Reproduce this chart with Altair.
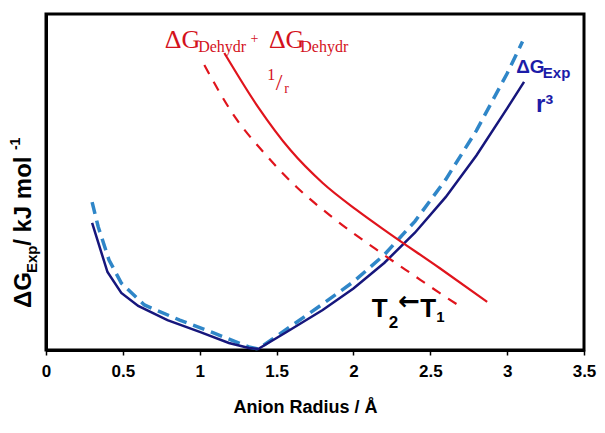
import altair as alt
import pandas as pd

# ---- data (anion radius in Å, free energy in arbitrary units) ----
exp_r = [0.30, 0.40, 0.49, 0.60, 0.79, 1.00, 1.19, 1.32, 1.38, 1.56, 1.80, 2.00, 2.20, 2.40, 2.60, 2.80, 3.00, 3.11]
exp_g = [37.8, 23.2, 17.0, 13.1, 8.9, 5.4, 2.1, 0.6, 0.3, 5.2, 11.9, 18.3, 25.9, 34.9, 45.5, 57.9, 71.9, 79.8]

exp2_r = [0.30, 0.34, 0.41, 0.49, 0.64, 0.87, 1.09, 1.32, 1.38, 1.60, 1.80, 2.00, 2.20, 2.40, 2.60, 2.80, 3.00, 3.10]
exp2_g = [44.0, 36.6, 26.8, 19.9, 13.4, 8.9, 5.1, 0.9, 0.3, 7.3, 13.7, 20.3, 28.3, 38.3, 50.7, 65.3, 82.3, 91.8]

dehydr_r = [1.16, 1.38, 1.59, 1.80, 2.02, 2.23, 2.56, 2.87]
dehydr_g = [88.4, 72.3, 59.5, 49.7, 41.7, 34.8, 24.4, 14.3]

dehydr2_r = [1.03, 1.23, 1.42, 1.63, 1.86, 2.18, 2.39, 2.56, 2.69]
dehydr2_g = [84.8, 69.3, 58.6, 48.5, 39.6, 28.9, 22.3, 17.0, 13.1]

x_ticks = [0, 0.5, 1, 1.5, 2, 2.5, 3, 3.5]

# annotation texts
red_txt = ["ΔG", "Dehydr", "+", "ΔG", "Dehydr", "1", "/", "r"]
red_x = [0.773, 0.990, 1.330, 1.450, 1.654, 1.440, 1.495, 1.550]
red_y = [89.9, 88.7, 91.4, 89.9, 88.7, 80.4, 77.4, 76.5]
red_sz = [26, 16, 14, 26, 16, 16, 24, 14]

blue_txt = ["ΔG", "Exp", "r³"]
blue_x = [3.059, 3.232, 3.187]
blue_y = [82.4, 81.0, 70.8]
blue_sz = [19, 15, 24]

blk_txt = ["T", "2", "T", "1"]
blk_x = [2.120, 2.229, 2.435, 2.539]
blk_y = [9.8, 6.5, 9.8, 8.3]
blk_sz = [26, 17, 26, 15]

arrow_txt = ["←"]
arrow_x = [2.292]
arrow_y = [12.0]
arrow_sz = [26]

ytl_txt = ["ΔG", "Exp", " / kJ mol", "-1"]
ytl_x = [-0.098, -0.059, -0.098, -0.169]
ytl_y = [12.5, 22.9, 31.0, 59.5]
ytl_sz = [24, 15, 24, 14]

xs = alt.Scale(domain=[0, 3.5], nice=False)
ys = alt.Scale(domain=[0, 100], nice=False)

xaxis = alt.Axis(values=x_ticks, format="~g", title="Anion Radius / Å", grid=False,
                 labelFont="Liberation Sans", labelFontWeight="bold", labelFontSize=17,
                 labelColor="black", labelFlush=False, labelPadding=8,
                 tickColor="black", tickSize=5, tickWidth=1.5,
                 domainColor="black", domainWidth=3,
                 titleFont="Liberation Sans", titleFontWeight="bold", titleFontSize=18,
                 titleColor="black", titleY=48, titleBaseline="top", titleX=259,
                 titleAlign="center")
yaxis = alt.Axis(labels=False, ticks=False, grid=False, title=None,
                 domainColor="black", domainWidth=3)


def line(r, g, color, width, dash=None, interp="linear"):
    df = pd.DataFrame({"r": r, "g": g})
    kw = dict(color=color, strokeWidth=width, clip=False, interpolate=interp)
    if dash:
        kw["strokeDash"] = dash
    return alt.Chart(df).mark_line(**kw).encode(
        x=alt.X("r:Q", scale=xs, axis=xaxis),
        y=alt.Y("g:Q", scale=ys, axis=yaxis),
    )


def texts(t, x, y, s, color, font, weight, angle=0):
    df = pd.DataFrame({"t": t, "x": x, "y": y, "s": s})
    kw = dict(color=color, font=font, fontWeight=weight, align="left", baseline="alphabetic")
    if angle:
        kw["angle"] = angle
    return alt.Chart(df).mark_text(**kw).encode(
        x=alt.X("x:Q", scale=xs), y=alt.Y("y:Q", scale=ys),
        text="t:N", size=alt.Size("s:Q", scale=None),
    )


chart = alt.layer(
    line(exp2_r, exp2_g, "#2f86c8", 3.5, [12, 7]),
    line(exp_r, exp_g, "#16167c", 2.5),
    line(dehydr2_r, dehydr2_g, "#e0141c", 2.2, [10, 9], "monotone"),
    line(dehydr_r, dehydr_g, "#e0141c", 2.2, None, "monotone"),
    texts(red_txt, red_x, red_y, red_sz, "#d4121c", "Liberation Serif", "normal"),
    texts(blue_txt, blue_x, blue_y, blue_sz, "#1c1ca8", "Liberation Sans", "bold"),
    texts(blk_txt, blk_x, blk_y, blk_sz, "black", "Liberation Sans", "bold"),
    texts(arrow_txt, arrow_x, arrow_y, arrow_sz, "black", "DejaVu Sans", "bold"),
    texts(ytl_txt, ytl_x, ytl_y, ytl_sz, "black", "Liberation Sans", "bold", angle=270),
).properties(
    width=538, height=336,
    autosize=alt.AutoSizeParams(type="none"),
    padding={"left": 38, "top": 6, "right": 13, "bottom": 74},
    background="white",
).configure_view(stroke="black", strokeWidth=3)

chart.save("out.html", embed_options={"renderer": "svg", "actions": False})
